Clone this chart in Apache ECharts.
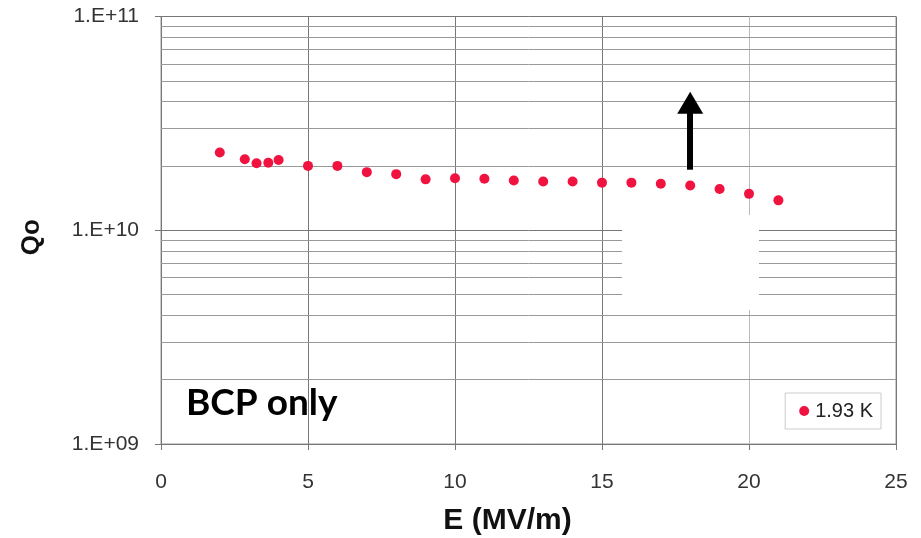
<!DOCTYPE html>
<html>
<head>
<meta charset="utf-8">
<script src="https://cdn.jsdelivr.net/npm/echarts@6/dist/echarts.min.js"></script>
<style>
  html, body { margin: 0; padding: 0; background: #fff; }
  #main { width: 921px; height: 538px; }
</style>
</head>
<body>
<div id="main"></div>
<script>
// E field (MV/m) and quality factor Qo at 1.93 K
const fieldE = [2, 2.85, 3.25, 3.65, 4, 5, 6, 7, 8, 9, 10, 11, 12, 13, 14, 15, 16, 17, 18, 19, 20, 21];
const qo = [2.31e10, 2.15e10, 2.06e10, 2.07e10, 2.13e10, 2.0e10, 2.0e10, 1.87e10, 1.83e10, 1.73e10, 1.75e10,
  1.74e10, 1.71e10, 1.69e10, 1.69e10, 1.67e10, 1.67e10, 1.65e10, 1.62e10, 1.56e10, 1.48e10, 1.38e10];
const seriesName = '1.93 K';
// minor log grid lines
const minorTicks = [2e9, 3e9, 4e9, 5e9, 6e9, 7e9, 8e9, 9e9, 2e10, 3e10, 4e10, 5e10, 6e10, 7e10, 8e10, 9e10];
// white patch hiding part of the grid [E, Qo]
const patch = [[15.68, 1.18e10], [20.34, 4.23e9]];
// arrow at E = 18
const arrow = [[18, 1.92e10], [18, 3.95e10]];

const font = 'Liberation Sans, Arial, sans-serif';
let myChart = echarts.init(document.getElementById('main'));

let option = {
  backgroundColor: '#fff',
  animation: false,
  grid: {
    left: 161, right: 25, top: 16.5, bottom: 94, outerBoundsMode: 'none',
    show: true, borderColor: '#999', borderWidth: 1
  },
  title: {
    text: 'BCP only', left: 181, top: 380,
    textStyle: { fontFamily: 'Lato, Open Sans, sans-serif', fontWeight: 'bold', fontSize: 37, color: '#000' }
  },
  legend: {
    right: 40, top: 393, itemWidth: 10, itemHeight: 10, itemGap: 0,
    padding: [8, 8, 8, 14], borderColor: '#ccc', borderWidth: 1, backgroundColor: '#fff',
    textStyle: { fontFamily: font, fontSize: 20, color: '#222', padding: [0, 0, 0, 1] },
    data: [{ name: seriesName, icon: 'circle' }]
  },
  xAxis: {
    type: 'value', min: 0, max: 25, interval: 5,
    name: 'E (MV/m)', nameLocation: 'middle', nameGap: 62,
    nameTextStyle: { fontFamily: font, fontWeight: 'bold', fontSize: 30, color: '#111', padding: [0, 42, 0, 0] },
    axisLine: { lineStyle: { color: '#777' } },
    axisTick: { show: true, length: 6, lineStyle: { color: '#777' } },
    axisLabel: { fontFamily: font, fontSize: 21, color: '#333', margin: 28 },
    splitLine: { lineStyle: { color: ['#777', '#777', '#777', '#777', '#bbb', '#777'], width: 1 } }
  },
  yAxis: {
    type: 'log', logBase: 10, min: 1e9, max: 1e11,
    name: 'Qo', nameLocation: 'middle', nameGap: 116, nameRotate: 90,
    nameTextStyle: { fontFamily: font, fontWeight: 'bold', fontSize: 26, color: '#111', padding: [0, 14, 0, 0] },
    axisLine: { show: true, lineStyle: { color: '#777' } },
    axisTick: { show: true, length: 6, lineStyle: { color: '#777' } },
    axisLabel: {
      fontFamily: font, fontSize: 21, color: '#333', margin: 22, padding: [5, 0, 0, 0],
      formatter: v => {
        const p = Math.round(Math.log10(v));
        return '1.E+' + (p < 10 ? '0' + p : p);
      }
    },
    splitLine: { lineStyle: { color: '#777', width: 1 } }
  },
  series: [
    {
      type: 'line', data: [], z: 1, silent: true,
      markLine: {
        z: 2, silent: true, symbol: 'none', label: { show: false },
        lineStyle: { color: '#999', type: 'solid', width: 1 },
        emphasis: { disabled: true },
        data: minorTicks.map(v => ({ yAxis: v }))
      }
    },
    {
      type: 'line', data: [], z: 2, silent: true,
      markArea: {
        z: 8, silent: true, itemStyle: { color: '#fff', opacity: 1 },
        data: [[{ coord: patch[0] }, { coord: patch[1] }]]
      }
    },
    {
      name: seriesName, type: 'scatter', z: 10,
      symbol: 'circle', symbolSize: 10,
      itemStyle: { color: '#f0123f', opacity: 1 },
      data: fieldE.map((e, i) => [e, qo[i]])
    },
    {
      type: 'line', data: [], z: 12, silent: true,
      markLine: {
        z: 12, silent: true, label: { show: false },
        symbol: ['none', 'triangle'], symbolSize: [26, 22],
        lineStyle: { color: '#000', type: 'solid', width: 6 },
        emphasis: { disabled: true },
        data: [[{ coord: arrow[0] }, { coord: arrow[1] }]]
      }
    }
  ]
};

myChart.setOption(option);
</script>
</body>
</html>
